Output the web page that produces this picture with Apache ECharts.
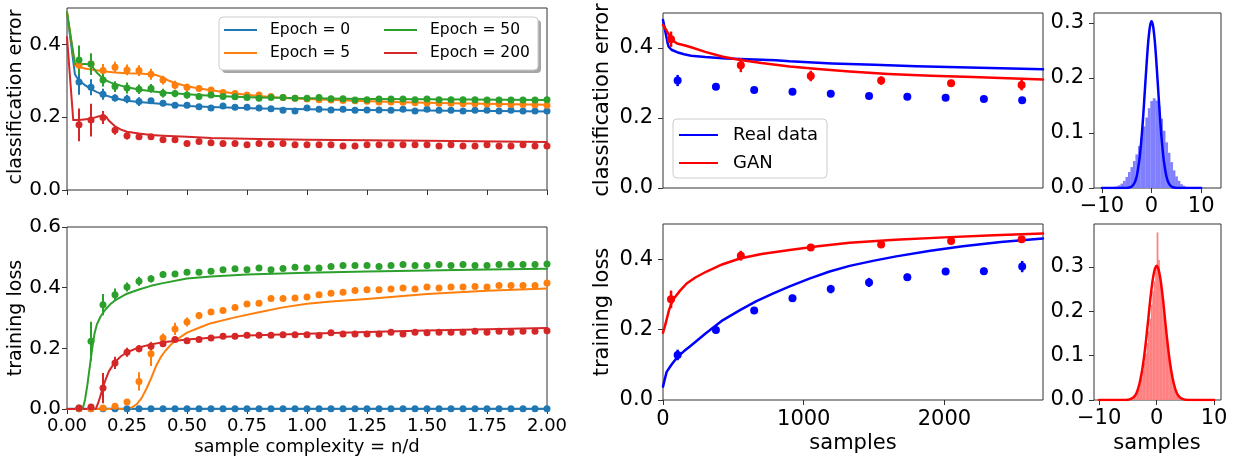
<!DOCTYPE html>
<html><head><meta charset="utf-8">
<script src="https://cdn.jsdelivr.net/npm/echarts@6/dist/echarts.min.js"></script>
<style>html,body{margin:0;padding:0;background:#fff}#c{width:1240px;height:462px}</style>
</head><body><div id="c"></div><script>
// ---------- tick labels ----------
const leftXTicks = [0, 0.25, 0.5, 0.75, 1.0, 1.25, 1.5, 1.75, 2.0];
const ceTicks = [0, 0.2, 0.4];
const tlLeftTicks = [0, 0.2, 0.4, 0.6];
const midXTicks = [0, 1000, 2000];
const histYTicks = [0, 0.1, 0.2, 0.3];
const histXTicks = [-10, 0, 10];

// ---------- left panels: sample complexity ----------
const epochNames = ['Epoch = 0', 'Epoch = 5', 'Epoch = 50', 'Epoch = 200'];
const lx = [0.05,0.1,0.15,0.2,0.25,0.3,0.35,0.4,0.45,0.5,0.55,0.6,0.65,0.7,0.75,0.8,0.85,0.9,0.95,1.0,1.05,1.1,1.15,1.2,1.25,1.3,1.35,1.4,1.45,1.5,1.55,1.6,1.65,1.7,1.75,1.8,1.85,1.9,1.95,2.0];

const ce0 = [0.297,0.282,0.263,0.253,0.250,0.243,0.245,0.238,0.233,0.233,0.229,0.225,0.231,0.227,0.227,0.225,0.223,0.219,0.217,0.225,0.222,0.220,0.222,0.219,0.220,0.220,0.219,0.222,0.217,0.222,0.219,0.219,0.217,0.219,0.219,0.217,0.219,0.217,0.217,0.217];
const ce5 = [0.343,0.346,0.328,0.337,0.330,0.328,0.318,0.302,0.288,0.282,0.279,0.275,0.268,0.265,0.261,0.261,0.257,0.254,0.252,0.250,0.248,0.247,0.246,0.245,0.244,0.242,0.242,0.241,0.240,0.239,0.238,0.238,0.237,0.237,0.236,0.236,0.235,0.235,0.234,0.233];
const ce50 = [0.357,0.346,0.302,0.284,0.280,0.277,0.279,0.266,0.265,0.261,0.257,0.261,0.257,0.256,0.254,0.252,0.254,0.254,0.252,0.252,0.254,0.251,0.251,0.247,0.248,0.250,0.250,0.250,0.248,0.250,0.248,0.248,0.248,0.248,0.247,0.247,0.247,0.247,0.247,0.248];
const ce200 = [0.179,0.192,0.199,0.164,0.149,0.146,0.146,0.138,0.138,0.128,0.133,0.130,0.128,0.128,0.124,0.128,0.126,0.128,0.124,0.124,0.124,0.124,0.121,0.121,0.124,0.124,0.124,0.124,0.124,0.124,0.121,0.124,0.121,0.121,0.124,0.121,0.121,0.124,0.121,0.121];

const ce0Err = [0.035,0.022,0.015,0.010,0.012,0.012,0.008,0.008,0.007,0.007,0.006,0.006,0.006,0.006,0.006,0.006,0.006,0.006,0.006,0.006,0.006,0.006,0.006,0.006,0.006,0.006,0.006,0.006,0.006,0.006,0.006,0.006,0.006,0.006,0.006,0.006,0.006,0.006,0.006,0.006];
const ce5Err = [0.010,0.010,0.018,0.015,0.015,0.015,0.015,0.012,0.012,0.010,0.008,0.008,0.007,0.007,0.007,0.007,0.006,0.006,0.006,0.006,0.006,0.006,0.006,0.006,0.006,0.006,0.006,0.006,0.006,0.006,0.006,0.006,0.006,0.006,0.006,0.006,0.006,0.006,0.006,0.006];
const ce50Err = [0.040,0.030,0.018,0.015,0.015,0.013,0.012,0.012,0.010,0.010,0.008,0.008,0.008,0.007,0.007,0.007,0.007,0.006,0.006,0.006,0.006,0.006,0.006,0.006,0.006,0.006,0.006,0.006,0.006,0.006,0.006,0.006,0.006,0.006,0.006,0.006,0.006,0.006,0.006,0.006];
const ce200Err = [0.045,0.045,0.018,0.012,0.010,0.008,0.008,0.007,0.007,0.006,0.006,0.006,0.006,0.006,0.006,0.006,0.006,0.006,0.006,0.006,0.006,0.006,0.006,0.006,0.006,0.006,0.006,0.006,0.006,0.006,0.006,0.006,0.006,0.006,0.006,0.006,0.006,0.006,0.006,0.006];

const ce0LineX = [0, 0.033, 0.04, 0.05, 0.075, 0.1, 0.125, 0.15, 0.2, 0.25, 0.3, 0.35, 0.4, 0.5, 0.6, 0.7, 0.8, 0.9, 1.0, 1.2, 1.4, 1.6, 1.8, 2.0];
const ce0LineY = [0.488, 0.318, 0.310, 0.302, 0.288, 0.277, 0.269, 0.262, 0.252, 0.245, 0.242, 0.239, 0.236, 0.231, 0.228, 0.226, 0.224, 0.223, 0.222, 0.220, 0.219, 0.218, 0.217, 0.216];
const ce5LineX = [0, 0.033, 0.05, 0.075, 0.1, 0.15, 0.2, 0.25, 0.3, 0.35, 0.375, 0.4, 0.425, 0.45, 0.5, 0.55, 0.6, 0.7, 0.8, 0.9, 1.0, 1.2, 1.4, 1.6, 1.8, 2.0];
const ce5LineY = [0.488, 0.343, 0.338, 0.334, 0.331, 0.326, 0.323, 0.321, 0.320, 0.318, 0.315, 0.309, 0.300, 0.294, 0.285, 0.279, 0.274, 0.265, 0.258, 0.253, 0.250, 0.245, 0.241, 0.238, 0.236, 0.234];
const ce50LineX = [0, 0.033, 0.075, 0.1, 0.11, 0.125, 0.15, 0.175, 0.2, 0.25, 0.3, 0.35, 0.4, 0.5, 0.6, 0.7, 0.8, 1.0, 1.25, 1.5, 2.0];
const ce50LineY = [0.488, 0.346, 0.346, 0.345, 0.335, 0.322, 0.306, 0.297, 0.291, 0.282, 0.276, 0.271, 0.268, 0.263, 0.259, 0.256, 0.254, 0.252, 0.250, 0.249, 0.247];
const ce200LineX = [0, 0.026, 0.05, 0.1, 0.125, 0.15, 0.165, 0.175, 0.2, 0.225, 0.25, 0.3, 0.35, 0.4, 0.5, 0.6, 0.8, 1.0, 1.5, 2.0];
const ce200LineY = [0.42, 0.192, 0.192, 0.196, 0.201, 0.205, 0.200, 0.190, 0.175, 0.166, 0.160, 0.155, 0.151, 0.149, 0.146, 0.143, 0.140, 0.138, 0.135, 0.132];

const tl0 = [0.001,0.001,0.001,0.001,0.001,0.001,0.001,0.001,0.001,0.001,0.001,0.001,0.001,0.001,0.001,0.001,0.001,0.001,0.001,0.001,0.001,0.001,0.001,0.001,0.001,0.001,0.001,0.001,0.001,0.001,0.001,0.001,0.001,0.001,0.001,0.001,0.001,0.001,0.001,0.001];
const tl5 = [0.001,0.001,0.003,0.009,0.023,0.091,0.182,0.234,0.264,0.287,0.308,0.320,0.325,0.335,0.346,0.349,0.364,0.364,0.366,0.369,0.377,0.382,0.385,0.391,0.393,0.393,0.396,0.399,0.396,0.402,0.399,0.402,0.402,0.404,0.402,0.407,0.407,0.407,0.407,0.415];
const tl50 = [0.003,0.223,0.344,0.377,0.402,0.421,0.429,0.443,0.445,0.451,0.451,0.454,0.459,0.462,0.459,0.465,0.459,0.463,0.467,0.465,0.465,0.470,0.473,0.473,0.473,0.470,0.473,0.476,0.473,0.473,0.476,0.473,0.476,0.473,0.473,0.476,0.476,0.476,0.476,0.478];
const tl200 = [0.003,0.007,0.069,0.152,0.187,0.199,0.207,0.215,0.229,0.225,0.229,0.234,0.240,0.240,0.243,0.243,0.243,0.245,0.245,0.245,0.242,0.251,0.247,0.247,0.247,0.247,0.253,0.247,0.253,0.251,0.253,0.253,0.253,0.256,0.253,0.256,0.253,0.256,0.256,0.258];

const tl0Err = [0.002,0.002,0.002,0.002,0.002,0.002,0.002,0.002,0.002,0.002,0.002,0.002,0.002,0.002,0.002,0.002,0.002,0.002,0.002,0.002,0.002,0.002,0.002,0.002,0.002,0.002,0.002,0.002,0.002,0.002,0.002,0.002,0.002,0.002,0.002,0.002,0.002,0.002,0.002,0.002];
const tl5Err = [0.002,0.002,0.003,0.005,0.008,0.030,0.040,0.015,0.020,0.015,0.012,0.010,0.010,0.008,0.008,0.008,0.007,0.007,0.007,0.007,0.007,0.007,0.007,0.007,0.007,0.007,0.007,0.007,0.007,0.007,0.007,0.007,0.007,0.007,0.007,0.007,0.007,0.007,0.007,0.007];
const tl50Err = [0.005,0.065,0.035,0.020,0.015,0.015,0.012,0.010,0.010,0.008,0.008,0.008,0.008,0.007,0.007,0.007,0.007,0.007,0.007,0.007,0.007,0.007,0.007,0.007,0.007,0.007,0.007,0.007,0.007,0.007,0.007,0.007,0.007,0.007,0.007,0.007,0.007,0.007,0.007,0.007];
const tl200Err = [0.003,0.005,0.050,0.020,0.015,0.012,0.012,0.010,0.010,0.008,0.008,0.008,0.007,0.007,0.007,0.007,0.007,0.007,0.007,0.007,0.007,0.007,0.007,0.007,0.007,0.007,0.007,0.007,0.007,0.007,0.007,0.007,0.007,0.007,0.007,0.007,0.007,0.007,0.007,0.007];

const tl0LineX = [0, 2.0];
const tl0LineY = [0.001, 0.001];
const tl5LineX = [0, 0.25, 0.27, 0.29, 0.31, 0.33, 0.35, 0.37, 0.39, 0.41, 0.43, 0.45, 0.5, 0.55, 0.6, 0.7, 0.8, 0.9, 1.0, 1.1, 1.25, 1.5, 1.75, 2.0];
const tl5LineY = [0, 0, 0.005, 0.015, 0.035, 0.065, 0.100, 0.140, 0.170, 0.192, 0.210, 0.225, 0.252, 0.268, 0.283, 0.302, 0.319, 0.335, 0.347, 0.354, 0.363, 0.379, 0.390, 0.397];
const tl50LineX = [0, 0.065, 0.075, 0.085, 0.095, 0.105, 0.115, 0.125, 0.14, 0.16, 0.18, 0.2, 0.25, 0.3, 0.35, 0.4, 0.5, 0.6, 0.75, 1.0, 1.25, 1.5, 1.75, 2.0];
const tl50LineY = [0, 0, 0.030, 0.080, 0.140, 0.200, 0.250, 0.280, 0.305, 0.328, 0.345, 0.358, 0.380, 0.394, 0.406, 0.415, 0.430, 0.437, 0.443, 0.449, 0.453, 0.457, 0.460, 0.462];
const tl200LineX = [0, 0.12, 0.13, 0.14, 0.15, 0.16, 0.175, 0.2, 0.225, 0.25, 0.3, 0.35, 0.4, 0.5, 0.6, 0.75, 1.0, 1.25, 1.5, 1.75, 2.0];
const tl200LineY = [0, 0, 0.020, 0.045, 0.072, 0.095, 0.125, 0.155, 0.174, 0.187, 0.203, 0.213, 0.220, 0.229, 0.235, 0.242, 0.248, 0.254, 0.259, 0.263, 0.267];

// ---------- middle panels: samples ----------
const realX = [104, 376, 648, 920, 1192, 1464, 1736, 2008, 2280, 2552];
const realCE = [0.307, 0.289, 0.280, 0.275, 0.269, 0.263, 0.261, 0.258, 0.254, 0.251];
const realCEErr = [0.016, 0.006, 0.005, 0.005, 0.005, 0.005, 0.005, 0.005, 0.005, 0.006];
const realTL = [0.128, 0.199, 0.254, 0.289, 0.315, 0.334, 0.349, 0.365, 0.366, 0.379];
const realTLErr = [0.015, 0.010, 0.008, 0.010, 0.012, 0.013, 0.010, 0.008, 0.010, 0.016];
const ganX = [57, 553, 1050, 1550, 2047, 2548];
const ganCE = [0.425, 0.351, 0.320, 0.307, 0.299, 0.294];
const ganCEErr = [0.022, 0.020, 0.015, 0.012, 0.010, 0.015];
const ganTL = [0.286, 0.410, 0.433, 0.442, 0.452, 0.457];
const ganTLErr = [0.025, 0.014, 0.007, 0.006, 0.006, 0.006];

const realCELineX = [0, 33, 40, 60, 100, 150, 200, 300, 450, 600, 800, 900, 1200, 1500, 1800, 2100, 2400, 2700];
const realCELineY = [0.48, 0.414, 0.404, 0.395, 0.388, 0.382, 0.378, 0.374, 0.370, 0.368, 0.365, 0.362, 0.356, 0.352, 0.348, 0.345, 0.342, 0.339];
const ganCELineX = [0, 25, 50, 75, 100, 150, 200, 300, 426, 550, 700, 900, 1100, 1326, 1600, 1900, 2200, 2500, 2700];
const ganCELineY = [0.466, 0.450, 0.432, 0.420, 0.413, 0.408, 0.402, 0.389, 0.375, 0.366, 0.357, 0.347, 0.340, 0.333, 0.326, 0.321, 0.317, 0.313, 0.310];
const realTLLineX = [0, 10, 26, 60, 104, 150, 191, 300, 426, 550, 664, 780, 900, 1040, 1184, 1326, 1500, 1657, 1900, 2130, 2400, 2700];
const realTLLineY = [0.038, 0.055, 0.080, 0.100, 0.123, 0.139, 0.152, 0.188, 0.227, 0.256, 0.281, 0.302, 0.323, 0.345, 0.365, 0.381, 0.396, 0.408, 0.424, 0.437, 0.449, 0.459];
const ganTLLineX = [0, 15, 30, 43, 60, 79, 120, 168, 230, 310, 420, 546, 700, 900, 1100, 1326, 1650, 2000, 2350, 2700];
const ganTLLineY = [0.191, 0.212, 0.235, 0.256, 0.274, 0.289, 0.310, 0.331, 0.348, 0.365, 0.385, 0.402, 0.415, 0.426, 0.437, 0.447, 0.455, 0.462, 0.468, 0.473];

// ---------- right panels: histograms ----------
const realHistX = [-8,-7.5,-7,-6.5,-6,-5.5,-5,-4.5,-4,-3.5,-3,-2.5,-2,-1.5,-1,-0.5,0,0.5,1,1.5,2,2.5,3,3.5,4,4.5,5,5.5,6,6.5,7,7.5,8,8.5,9];
const realHistY = [0.001,0.002,0.003,0.005,0.008,0.013,0.020,0.029,0.038,0.049,0.061,0.076,0.092,0.112,0.128,0.145,0.158,0.163,0.159,0.148,0.126,0.104,0.083,0.064,0.047,0.032,0.021,0.013,0.007,0.004,0.002,0.001,0.001,0.0005,0.0005];
const ganHistX = [-4.375,-4.125,-3.875,-3.625,-3.375,-3.125,-2.875,-2.625,-2.375,-2.125,-1.875,-1.625,-1.375,-1.125,-0.875,-0.625,-0.375,-0.125,0.125,0.375,0.625,0.875,1.125,1.375,1.625,1.875,2.125,2.375,2.625,2.875,3.125,3.375,3.625,3.875,4.125,4.375];
const ganHistY = [0.003,0.004,0.007,0.011,0.017,0.026,0.036,0.050,0.066,0.083,0.105,0.128,0.155,0.183,0.215,0.245,0.268,0.300,0.378,0.316,0.268,0.244,0.214,0.185,0.155,0.128,0.100,0.080,0.061,0.044,0.031,0.020,0.012,0.007,0.004,0.002];
const pdfX = [-10,-6,-5,-4.5,-4,-3.5,-3,-2.5,-2.25,-2,-1.75,-1.5,-1.25,-1,-0.75,-0.5,-0.25,0,0.25,0.5,0.75,1,1.25,1.5,1.75,2,2.25,2.5,3,3.5,4,4.5,5,6,10];
const realPdfY = [0,0,0.0002,0.0008,0.0027,0.0081,0.021,0.048,0.068,0.093,0.122,0.156,0.191,0.225,0.257,0.281,0.297,0.303,0.297,0.281,0.257,0.225,0.191,0.156,0.122,0.093,0.068,0.048,0.021,0.0081,0.0027,0.0008,0.0002,0,0];
const ganPdfY = [0,0,0.0008,0.0025,0.0067,0.016,0.036,0.069,0.091,0.117,0.146,0.177,0.209,0.239,0.265,0.285,0.298,0.303,0.298,0.285,0.265,0.239,0.209,0.177,0.146,0.117,0.091,0.069,0.036,0.016,0.0067,0.0025,0.0008,0,0];

// ---------- styling ----------
const FONT = 'DejaVu Sans';
const C = { e0:'#1f77b4', e5:'#ff7f0e', e50:'#2ca02c', e200:'#d62728', real:'#0000ff', gan:'#ff0000', realHist:'#8080ff', ganHist:'#ff8080' };
const FRAME = '#333';

const grids = [
  {left:67, top:8, width:480, height:182},
  {left:67, top:227, width:480, height:182},
  {left:663, top:13, width:380, height:175},
  {left:663, top:224, width:380, height:176},
  {left:1094, top:13, width:127, height:175},
  {left:1094, top:224, width:127, height:176}
].map(g => Object.assign({show:true, borderColor:FRAME, borderWidth:1, backgroundColor:'transparent', containLabel:false}, g));

function xAx(gi, min, max, ticks, fs, fmt, margin) {
  return {
    type:'value', gridIndex:gi, min, max, splitLine:{show:false}, axisLine:{show:false, onZero:false},
    axisTick: ticks ? {show:true, length:5, lineStyle:{color:FRAME}, customValues:ticks} : {show:false},
    axisLabel: (ticks && fs) ? {show:true, customValues:ticks, fontSize:fs, fontFamily:FONT, color:'#000', margin, formatter:fmt, showMinLabel:true, showMaxLabel:true} : {show:false}
  };
}
function yAx(gi, min, max, ticks, fs, fmt, margin) {
  return {
    type:'value', gridIndex:gi, min, max, splitLine:{show:false}, axisLine:{show:false, onZero:false},
    axisTick:{show:true, length:5, lineStyle:{color:FRAME}, customValues:ticks},
    axisLabel:{show:true, customValues:ticks, fontSize:fs, fontFamily:FONT, color:'#000', margin, formatter:fmt, showMinLabel:true, showMaxLabel:true}
  };
}
const f2 = v => v.toFixed(2);
const f1 = v => v.toFixed(1);
const fi = v => String(Math.round(v));
const fm = v => v < 0 ? '\u2212' + Math.abs(v) : String(v);

const xAxes = [
  xAx(0, 0, 2, leftXTicks, null),
  xAx(1, 0, 2, leftXTicks, 18, f2, 8),
  xAx(2, 0, 2700, null, null),
  xAx(3, 0, 2700, midXTicks, 21, fi, 9),
  xAx(4, -11.6, 14, histXTicks, 21, fm, 8),
  xAx(5, -10.9, 11.2, histXTicks, 21, fm, 8)
];
const yAxes = [
  yAx(0, 0, 0.5, ceTicks, 20, f1, 6),
  yAx(1, 0, 0.6, tlLeftTicks, 20, f1, 6),
  yAx(2, 0, 0.5, ceTicks, 21, f1, 10),
  yAx(3, 0, 0.5, ceTicks, 21, f1, 10),
  yAx(4, 0, 0.318, histYTicks, 21, f1, 10),
  yAx(5, 0, 0.397, histYTicks, 21, f1, 10)
];

function pairs(xs, ys) { return xs.map((x, i) => [x, ys[i]]); }
function lineS(name, gi, xs, ys, color, w, smooth) {
  return {name, type:'line', xAxisIndex:gi, yAxisIndex:gi, data:pairs(xs, ys), symbol:'none', showSymbol:false,
    smooth: smooth, lineStyle:{color, width:w, join:'round', cap:'round'}, itemStyle:{color}, z:3, silent:true, clip:true};
}
function dotS(name, gi, xs, ys, color, size) {
  return {name, type:'scatter', xAxisIndex:gi, yAxisIndex:gi, data:pairs(xs, ys), symbol:'circle', symbolSize:size,
    itemStyle:{color, opacity:1}, z:4, silent:true};
}
function errS(name, gi, xs, ys, es, color, w) {
  return {name, type:'custom', xAxisIndex:gi, yAxisIndex:gi, silent:true, z:4,
    data: xs.map((x, i) => [x, ys[i] - es[i], ys[i] + es[i]]),
    encode:{x:0, y:[1, 2]},
    renderItem: (params, api) => {
      const p1 = api.coord([api.value(0), api.value(1)]);
      const p2 = api.coord([api.value(0), api.value(2)]);
      return {type:'line', shape:{x1:p1[0], y1:p1[1], x2:p2[0], y2:p2[1]}, style:{stroke:color, lineWidth:w}};
    }
  };
}
function histS(name, gi, cs, hs, bw, color) {
  return {name, type:'custom', xAxisIndex:gi, yAxisIndex:gi, silent:true, z:2, clip:true,
    data: cs.map((c, i) => [c - bw / 2, c + bw / 2, hs[i]]),
    encode:{x:[0, 1], y:2},
    renderItem: (params, api) => {
      const a = api.coord([api.value(0), api.value(2)]);
      const b = api.coord([api.value(1), 0]);
      return {type:'rect', shape:{x:a[0], y:a[1], width:b[0] - a[0] + 0.3, height:b[1] - a[1]}, style:{fill:color}};
    }
  };
}

const LW = 2, MS = 7;
const series = [
  // top-left
  lineS('Epoch = 0', 0, ce0LineX, ce0LineY, C.e0, LW, false),
  lineS('Epoch = 5', 0, ce5LineX, ce5LineY, C.e5, LW, false),
  lineS('Epoch = 50', 0, ce50LineX, ce50LineY, C.e50, LW, false),
  lineS('Epoch = 200', 0, ce200LineX, ce200LineY, C.e200, LW, false),
  errS('e0 err ce', 0, lx, ce0, ce0Err, C.e0, 2), dotS('e0 pts ce', 0, lx, ce0, C.e0, MS),
  errS('e5 err ce', 0, lx, ce5, ce5Err, C.e5, 2), dotS('e5 pts ce', 0, lx, ce5, C.e5, MS),
  errS('e50 err ce', 0, lx, ce50, ce50Err, C.e50, 2), dotS('e50 pts ce', 0, lx, ce50, C.e50, MS),
  errS('e200 err ce', 0, lx, ce200, ce200Err, C.e200, 2), dotS('e200 pts ce', 0, lx, ce200, C.e200, MS),
  // bottom-left
  lineS('Epoch = 0', 1, tl0LineX, tl0LineY, C.e0, LW, false),
  lineS('Epoch = 5', 1, tl5LineX, tl5LineY, C.e5, LW, false),
  lineS('Epoch = 50', 1, tl50LineX, tl50LineY, C.e50, LW, false),
  lineS('Epoch = 200', 1, tl200LineX, tl200LineY, C.e200, LW, false),
  errS('e0 err tl', 1, lx, tl0, tl0Err, C.e0, 2), dotS('e0 pts tl', 1, lx, tl0, C.e0, MS),
  errS('e5 err tl', 1, lx, tl5, tl5Err, C.e5, 2), dotS('e5 pts tl', 1, lx, tl5, C.e5, MS),
  errS('e50 err tl', 1, lx, tl50, tl50Err, C.e50, 2), dotS('e50 pts tl', 1, lx, tl50, C.e50, MS),
  errS('e200 err tl', 1, lx, tl200, tl200Err, C.e200, 2), dotS('e200 pts tl', 1, lx, tl200, C.e200, MS),
  // top-middle
  lineS('Real data', 2, realCELineX, realCELineY, C.real, 2.5, false),
  lineS('GAN', 2, ganCELineX, ganCELineY, C.gan, 2.5, false),
  errS('real err ce', 2, realX, realCE, realCEErr, C.real, 2.5), dotS('real pts ce', 2, realX, realCE, C.real, 8),
  errS('gan err ce', 2, ganX, ganCE, ganCEErr, C.gan, 2.5), dotS('gan pts ce', 2, ganX, ganCE, C.gan, 8),
  // bottom-middle
  lineS('Real data', 3, realTLLineX, realTLLineY, C.real, 2.5, false),
  lineS('GAN', 3, ganTLLineX, ganTLLineY, C.gan, 2.5, false),
  errS('real err tl', 3, realX, realTL, realTLErr, C.real, 2.5), dotS('real pts tl', 3, realX, realTL, C.real, 8),
  errS('gan err tl', 3, ganX, ganTL, ganTLErr, C.gan, 2.5), dotS('gan pts tl', 3, ganX, ganTL, C.gan, 8),
  // right histograms
  histS('real hist', 4, realHistX, realHistY, 0.5, C.realHist),
  lineS('real pdf', 4, pdfX, realPdfY, C.real, 2.5, 0.3),
  histS('gan hist', 5, ganHistX, ganHistY, 0.25, C.ganHist),
  lineS('gan pdf', 5, pdfX, ganPdfY, C.gan, 2.5, 0.3)
];

function legendCol(names, left, top, iw, fs, lh, gap, pad) {
  return {show:true, orient:'vertical', left, top, padding:0, itemGap:gap, itemWidth:iw, itemHeight:2, icon:'rect',
    selectedMode:false, data:names,
    textStyle:{fontFamily:FONT, fontSize:fs, lineHeight:lh, color:'#000', padding:[0, 0, 0, pad]}};
}

function txt(text, x, y, fs, rot) {
  return {type:'text', x, y, rotation: rot ? Math.PI / 2 : 0, z:10,
    style:{text, font: fs + 'px "DejaVu Sans"', fill:'#000', align:'center', verticalAlign:'middle'}};
}

const option = {
  animation:false,
  backgroundColor:'#fff',
  grid: grids,
  xAxis: xAxes,
  yAxis: yAxes,
  legend: [
    legendCol([epochNames[0], epochNames[1]], 224, 21, 33, 15.5, 18, 5, 8),
    legendCol([epochNames[2], epochNames[3]], 384, 21, 33, 15.5, 18, 5, 8),
    legendCol(['Real data', 'GAN'], 679, 125, 39, 18, 20, 8, 10)
  ],
  graphic: [
    {type:'rect', z:1, shape:{x:222, y:20, width:319, height:53, r:4}, style:{fill:'rgba(0,0,0,0.35)'}},
    {type:'rect', z:2, shape:{x:219, y:17, width:319, height:53, r:4}, style:{fill:'#fff', stroke:'#cccccc', lineWidth:1}},
    {type:'rect', z:2, shape:{x:673, y:119, width:154, height:59, r:4}, style:{fill:'rgba(255,255,255,0.8)', stroke:'#cccccc', lineWidth:1}},
    txt('classification error', 16, 97, 19, true),
    txt('training loss', 16, 318, 19, true),
    txt('sample complexity = n/d', 307, 447, 18, false),
    txt('classification error', 603, 100, 21, true),
    txt('training loss', 603, 312, 21, true),
    txt('samples', 853, 444, 21, false),
    txt('samples', 1157, 444, 21, false)
  ],
  series
};

const chart = echarts.init(document.getElementById('c'), null, {renderer:'canvas'});
chart.setOption(option);
</script></body></html>
